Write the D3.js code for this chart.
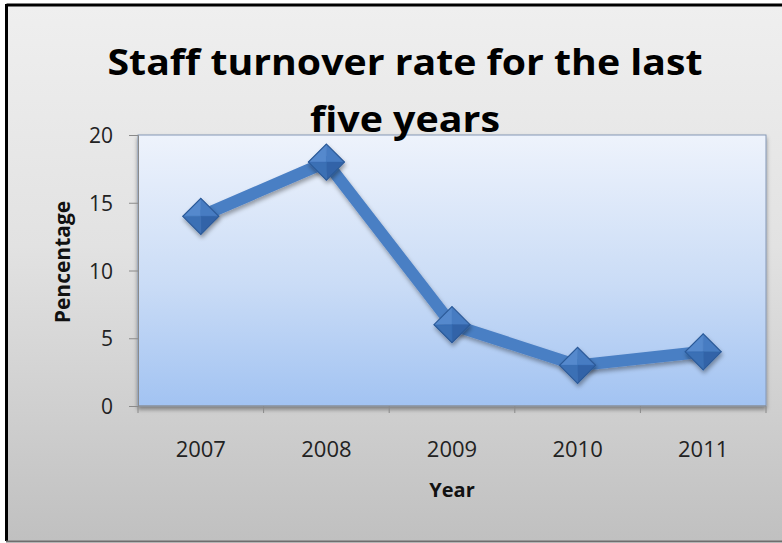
<!DOCTYPE html>
<html>
<head>
<meta charset="utf-8">
<script src="https://cdn.jsdelivr.net/npm/d3@7"></script>
<style>
  html, body { margin: 0; padding: 0; background: #ffffff; }
  svg { display: block; }
  text { font-family: "Open Sans", "Noto Sans", sans-serif; }
</style>
</head>
<body>
<svg id="chart" width="782" height="543"></svg>
<script>
// Data
const years = ["2007", "2008", "2009", "2010", "2011"];
const turnover = [14, 18, 6, 3, 4];
const yTicks = [0, 5, 10, 15, 20];
const titleLines = ["Staff turnover rate for the last", "five years"];
const xTitle = "Year";
const yTitle = "Pencentage";

const svg = d3.select("#chart");
const W = 782, H = 543;
const plot = { left: 138, right: 766, top: 135, bottom: 406 };

const defs = svg.append("defs");

// chart area background gradient
const bg = defs.append("linearGradient").attr("id", "bgGrad")
  .attr("x1", 0).attr("y1", 0).attr("x2", 0).attr("y2", 1);
bg.append("stop").attr("offset", "0%").attr("stop-color", "#efefef");
bg.append("stop").attr("offset", "45%").attr("stop-color", "#e2e2e2");
bg.append("stop").attr("offset", "100%").attr("stop-color", "#c0c0c0");

// plot area gradient
const pg = defs.append("linearGradient").attr("id", "plotGrad")
  .attr("x1", 0).attr("y1", 0).attr("x2", 0).attr("y2", 1);
pg.append("stop").attr("offset", "0%").attr("stop-color", "#eef3fc");
pg.append("stop").attr("offset", "55%").attr("stop-color", "#cadcf6");
pg.append("stop").attr("offset", "100%").attr("stop-color", "#a2c3f2");

// soft shadows
const sh = defs.append("filter").attr("id", "shadow")
  .attr("x", "-10%").attr("y", "-10%").attr("width", "130%").attr("height", "140%");
sh.append("feDropShadow").attr("dx", 1).attr("dy", 3).attr("stdDeviation", 2)
  .attr("flood-color", "#000").attr("flood-opacity", 0.35);

const psh = defs.append("filter").attr("id", "plotShadow")
  .attr("x", "-5%").attr("y", "-5%").attr("width", "110%").attr("height", "115%");
psh.append("feDropShadow").attr("dx", 0).attr("dy", 3).attr("stdDeviation", 2)
  .attr("flood-color", "#000").attr("flood-opacity", 0.4);

// chart frame
svg.append("rect").attr("x", 0).attr("y", 0).attr("width", W).attr("height", H).attr("fill", "#ffffff");
svg.append("rect").attr("x", 7).attr("y", 5).attr("width", W).attr("height", 536)
  .attr("fill", "url(#bgGrad)");
svg.append("line").attr("x1", 6.5).attr("x2", W).attr("y1", 5).attr("y2", 5)
  .attr("stroke", "#000").attr("stroke-width", 3);
svg.append("line").attr("x1", 6.5).attr("x2", 6.5).attr("y1", 4).attr("y2", 541)
  .attr("stroke", "#000").attr("stroke-width", 3);
svg.append("line").attr("x1", 6).attr("x2", W).attr("y1", 541.5).attr("y2", 541.5)
  .attr("stroke", "#6e6e6e").attr("stroke-width", 2);

// scales
const x = d3.scaleBand().domain(years).range([plot.left, plot.right]).padding(0);
const y = d3.scaleLinear().domain([0, 20]).range([plot.bottom, plot.top]);

// plot area
svg.append("rect")
  .attr("x", plot.left).attr("y", plot.top)
  .attr("width", plot.right - plot.left).attr("height", plot.bottom - plot.top)
  .attr("fill", "url(#plotGrad)")
  .attr("stroke", "#8497b5").attr("stroke-width", 1)
  .attr("filter", "url(#plotShadow)");

// y axis
const yAxis = d3.axisLeft(y).tickValues(yTicks).tickSize(9).tickPadding(16);
const gy = svg.append("g").attr("transform", `translate(${plot.left},0)`).call(yAxis);
gy.select(".domain").attr("stroke", "#8a8a8a");
gy.selectAll(".tick line").attr("stroke", "#8a8a8a");
gy.selectAll(".tick text")
  .attr("font-size", 21).attr("fill", "#222").attr("dy", "0.36em")
  .style("font-family", "'Open Sans', sans-serif");

// x axis: ticks on category boundaries, labels at centres
const gx = svg.append("g").attr("transform", `translate(0,${plot.bottom})`);
gx.append("line").attr("x1", plot.left).attr("x2", plot.right).attr("y1", 0).attr("y2", 0)
  .attr("stroke", "#8a8a8a");
const bounds = years.map(d => x(d)).concat([x(years[years.length - 1]) + x.bandwidth()]);
gx.selectAll(".xt").data(bounds).join("line")
  .attr("x1", d => d).attr("x2", d => d).attr("y1", 0).attr("y2", 7)
  .attr("stroke", "#8a8a8a");
gx.selectAll(".xl").data(years).join("text")
  .attr("x", d => x(d) + x.bandwidth() / 2)
  .attr("y", 51)
  .attr("text-anchor", "middle")
  .attr("font-size", 22).attr("fill", "#222")
  .text(d => d);

// line
const pts = years.map((d, i) => [x(d) + x.bandwidth() / 2, y(turnover[i])]);
svg.append("path")
  .attr("d", d3.line()(pts))
  .attr("fill", "none")
  .attr("stroke", "#4a7fc4")
  .attr("stroke-width", 12)
  .attr("stroke-linejoin", "round")
  .attr("filter", "url(#shadow)");

// diamond markers with bevelled facets
const r = 18;
const markers = svg.selectAll(".marker").data(pts).join("g")
  .attr("class", "marker")
  .attr("transform", d => `translate(${d[0]},${d[1]})`)
  .attr("filter", "url(#shadow)");
const facets = [
  { p: [[0, -r], [-r, 0], [0, 0]], c: "#5589cd" },
  { p: [[0, -r], [r, 0], [0, 0]], c: "#477cc2" },
  { p: [[r, 0], [0, r], [0, 0]], c: "#3264a8" },
  { p: [[-r, 0], [0, r], [0, 0]], c: "#3a6fb5" }
];
facets.forEach(f => {
  markers.append("path")
    .attr("d", d3.line()(f.p) + "Z")
    .attr("fill", f.c)
    .attr("stroke", f.c).attr("stroke-width", 0.5);
});
markers.append("path")
  .attr("d", `M0,${-r}L${r},0L0,${r}L${-r},0Z`)
  .attr("fill", "none").attr("stroke", "#2c5a98").attr("stroke-width", 1.2);

// titles
const tlen = [595, 190];
svg.selectAll(".title").data(titleLines).join("text")
  .attr("x", 405)
  .attr("y", (d, i) => 75 + i * 57)
  .attr("text-anchor", "middle")
  .attr("font-size", 35).attr("font-weight", "bold").attr("fill", "#000")
  .attr("textLength", (d, i) => tlen[i])
  .attr("lengthAdjust", "spacingAndGlyphs")
  .text(d => d);

svg.append("text")
  .attr("x", (plot.left + plot.right) / 2).attr("y", 497)
  .attr("text-anchor", "middle")
  .attr("font-size", 20).attr("font-weight", "bold").attr("fill", "#111")
  .text(xTitle);

svg.append("text")
  .attr("transform", `translate(70,262) rotate(-90)`)
  .attr("text-anchor", "middle")
  .attr("font-size", 21).attr("font-weight", "bold").attr("fill", "#111")
  .text(yTitle);
</script>
</body>
</html>
